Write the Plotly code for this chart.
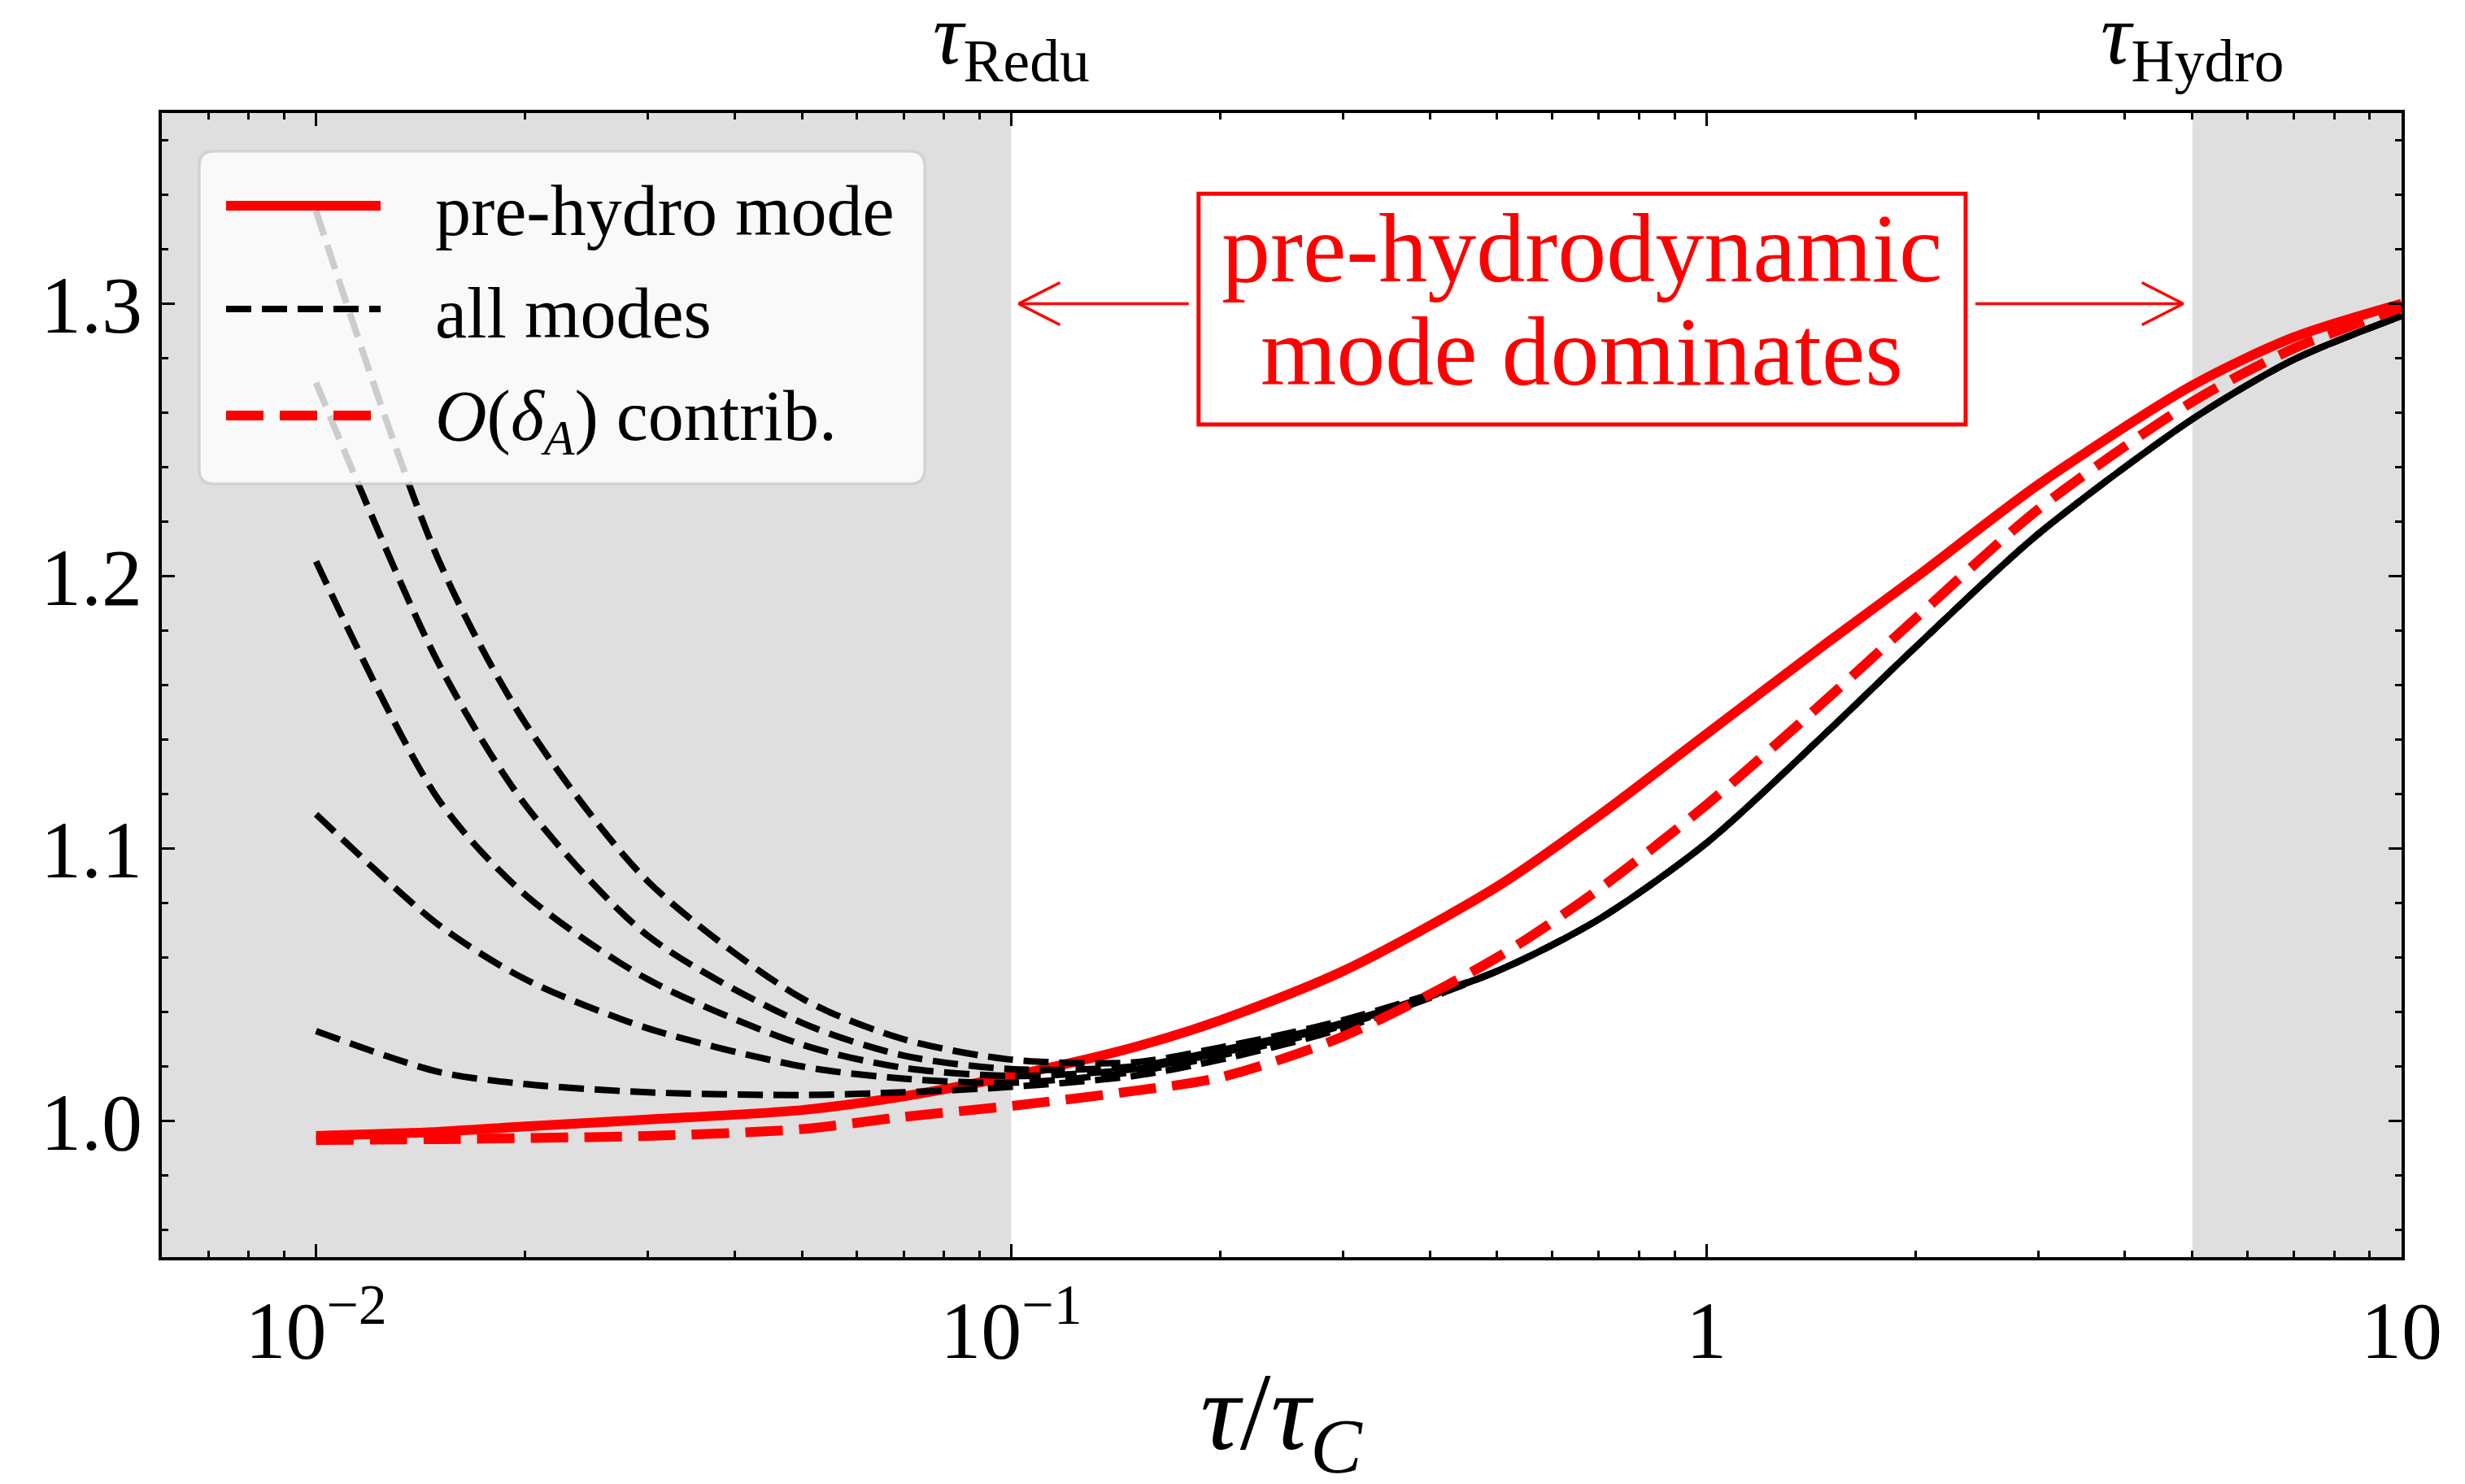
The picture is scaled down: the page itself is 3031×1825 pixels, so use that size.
import numpy as np
import plotly.graph_objects as go

# ---------------- data ----------------
tau = [0.01, 0.015, 0.02, 0.03, 0.05, 0.07, 0.1, 0.15, 0.2, 0.3,
       0.5, 0.7, 1, 1.5, 2, 3, 5, 7, 10]

pre_hydro = [0.9945, 0.996, 0.998, 1.0005, 1.004, 1.009, 1.0165, 1.027, 1.037, 1.055,
             1.086, 1.112, 1.142, 1.176, 1.1995, 1.2335, 1.270, 1.2877, 1.300]
delta_A = [0.993, 0.9933, 0.9937, 0.9945, 0.997, 1.0015, 1.0055, 1.011, 1.016, 1.031,
           1.060, 1.085, 1.116, 1.1555, 1.1845, 1.2245, 1.264, 1.2836, 1.2986]

# "all modes" curves: early part (tau <= 0.3) differs per curve, late part shared
all_A = [1.033, 1.018, 1.0135, 1.0105, 1.0095, 1.0105, 1.0125, 1.0165, 1.0225, 1.034]
all_B = [1.1126, 1.072, 1.052, 1.034, 1.020, 1.0155, 1.014, 1.018, 1.024, 1.035]
all_C = [1.2054, 1.118, 1.083, 1.052, 1.028, 1.0195, 1.0165, 1.019, 1.025, 1.0355]
all_D = [1.271, 1.168, 1.116, 1.068, 1.036, 1.024, 1.019, 1.020, 1.026, 1.036]
all_E = [1.334, 1.206, 1.146, 1.088, 1.045, 1.030, 1.0225, 1.0215, 1.027, 1.037]
all_tail = [1.055, 1.074, 1.102, 1.1434, 1.174, 1.2154, 1.2576, 1.2795, 1.2955]

x_tickvals = [0.01, 0.1, 1, 10]
x_ticktext = ["10<sup>\u22122</sup>", "10<sup>\u22121</sup>", "1", "10"]
y_tickvals = [1.0, 1.1, 1.2, 1.3]
y_ticktext = ["1.0", "1.1", "1.2", "1.3"]

legend_labels = ["pre-hydro mode", "all modes", "<i>O</i>(<i>\u03b4</i><sub><i>A</i></sub>) contrib."]
box_lines = ["pre-hydrodynamic", "mode dominates"]

X_MIN, X_MAX = 0.006, 10
Y_MIN, Y_MAX = 0.95, 1.37
tau_redu, tau_hydro = 0.1, 5
arrow_y = 1.3
box_x0, box_x1, box_y0, box_y1 = 0.186, 2.36, 1.2557, 1.3404
box_text_y = [1.3202, 1.2823]

# ---------------- geometry ----------------
W, H = 3031, 1825
ML, MR, MT, MB = 199, 78, 139, 279
PW, PH = W - ML - MR, H - MT - MB
FONT = "Liberation Serif"
RED = "#ff0000"


def x_off(x, dpx):
    return 10 ** (np.log10(x) + dpx * (np.log10(X_MAX) - np.log10(X_MIN)) / PW)


def y_off(y, dpx):
    return y + dpx * (Y_MAX - Y_MIN) / PH


def pxx(px):
    return (px - ML) / PW


def pxy(py):
    return (H - MB - py) / PH


fig = go.Figure()

spl = dict(shape="spline", smoothing=0.8)
fig.add_trace(go.Scatter(x=tau, y=pre_hydro, mode="lines",
                         line=dict(color=RED, width=12, **spl)))
for head in [all_A, all_B, all_C, all_D, all_E]:
    fig.add_trace(go.Scatter(x=tau, y=head + all_tail, mode="lines",
                             line=dict(color="black", width=8, dash="31px,13px", **spl)))
fig.add_trace(go.Scatter(x=tau, y=delta_A, mode="lines",
                         line=dict(color=RED, width=12, dash="46px,20px", **spl)))

shapes = []
# shaded regions
for a, b in [(X_MIN, tau_redu), (tau_hydro, X_MAX)]:
    shapes.append(dict(type="rect", xref="x", yref="paper", x0=a, x1=b, y0=0, y1=1,
                       fillcolor="#dfdfdf", line=dict(width=0), layer="below"))

# legend frame (rounded, semi-transparent)
lx0, lx1, ly0, ly1 = pxx(245), pxx(1137), pxy(595), pxy(186)
rx, ry = 18 / PW, 18 / PH
path = (f"M{lx0+rx},{ly0} L{lx1-rx},{ly0} Q{lx1},{ly0} {lx1},{ly0+ry} "
        f"L{lx1},{ly1-ry} Q{lx1},{ly1} {lx1-rx},{ly1} L{lx0+rx},{ly1} "
        f"Q{lx0},{ly1} {lx0},{ly1-ry} L{lx0},{ly0+ry} Q{lx0},{ly0} {lx0+rx},{ly0} Z")
shapes.append(dict(type="path", xref="paper", yref="paper", path=path,
                   fillcolor="rgba(255,255,255,0.8)",
                   line=dict(color="rgba(204,204,204,0.8)", width=3.5), layer="above"))
rows = [253, 380, 511]
styles = [dict(color=RED, width=12), dict(color="black", width=8, dash="31px,13px"),
          dict(color=RED, width=12, dash="46px,20px")]
for r, st in zip(rows, styles):
    shapes.append(dict(type="line", xref="paper", yref="paper", x0=pxx(278), x1=pxx(468),
                       y0=pxy(r), y1=pxy(r), line=st, layer="above"))

# annotation box
shapes.append(dict(type="rect", xref="x", yref="y", x0=box_x0, x1=box_x1, y0=box_y0, y1=box_y1,
                   fillcolor="white", line=dict(color=RED, width=5), layer="above"))
# arrows
aw = dict(color=RED, width=3.5)
lt = x_off(tau_redu, 9)
rt = x_off(tau_hydro, -11)
shapes.append(dict(type="line", xref="x", yref="y", x0=x_off(box_x0, -12), x1=lt,
                   y0=arrow_y, y1=arrow_y, line=aw, layer="above"))
shapes.append(dict(type="line", xref="x", yref="y", x0=x_off(box_x1, 12), x1=rt,
                   y0=arrow_y, y1=arrow_y, line=aw, layer="above"))
for s in (1, -1):
    shapes.append(dict(type="line", xref="x", yref="y", x0=lt, x1=x_off(lt, 51),
                       y0=arrow_y, y1=y_off(arrow_y, s * 26), line=aw, layer="above"))
    shapes.append(dict(type="line", xref="x", yref="y", x0=rt, x1=x_off(rt, -51),
                       y0=arrow_y, y1=y_off(arrow_y, s * 26), line=aw, layer="above"))

ann = []
for r, lab in zip(rows, legend_labels):
    ann.append(dict(xref="paper", yref="paper", x=pxx(533), y=pxy(r + 6), text=lab,
                    showarrow=False, xanchor="left", yanchor="middle",
                    font=dict(family=FONT, size=88, color="black")))
box_cx = np.log10(np.sqrt(box_x0 * box_x1))
for t, yy in zip(box_lines, box_text_y):
    ann.append(dict(xref="x", yref="y", x=box_cx, y=yy, text=t, showarrow=False,
                    xanchor="center", yanchor="middle",
                    font=dict(family=FONT, size=120, color=RED)))
for xv, lab in [(tau_redu, "<i>\u03c4</i><sub>Redu</sub>"), (tau_hydro, "<i>\u03c4</i><sub>Hydro</sub>")]:
    ann.append(dict(xref="x", yref="paper", x=np.log10(xv), y=pxy(50), text=lab,
                    showarrow=False, xanchor="center", yanchor="middle",
                    font=dict(family=FONT, size=105, color="black")))
ann.append(dict(xref="paper", yref="paper", x=0.5, y=pxy(1746),
                text="<i>\u03c4</i>/<i>\u03c4</i><sub><i>C</i></sub>", showarrow=False,
                xanchor="center", yanchor="middle",
                font=dict(family=FONT, size=136, color="black")))

minor_x = [m * 10.0 ** e for e in range(-3, 1) for m in range(2, 10)
           if X_MIN <= m * 10.0 ** e <= X_MAX]
minor_y = [round(v, 2) for v in np.arange(0.96, 1.37, 0.02)]

axis_common = dict(showline=True, linewidth=4, linecolor="black", mirror="allticks",
                   ticks="inside", ticklen=16, tickwidth=3, tickcolor="black",
                   showgrid=False, zeroline=False,
                   tickfont=dict(family=FONT, size=100, color="black"))

fig.update_layout(
    width=W, height=H, autosize=False,
    margin=dict(l=ML, r=MR, t=MT, b=MB, pad=0),
    paper_bgcolor="white", plot_bgcolor="white",
    showlegend=False,
    shapes=shapes, annotations=ann,
    xaxis=dict(type="log", range=[np.log10(X_MIN), np.log10(X_MAX)],
               tickmode="array", tickvals=x_tickvals, ticktext=x_ticktext,
               minor=dict(tickmode="array", tickvals=minor_x, ticks="inside", ticklen=8,
                          tickwidth=2.5, tickcolor="black", showgrid=False),
               **axis_common),
    yaxis=dict(range=[Y_MIN, Y_MAX], tickmode="array", tickvals=y_tickvals, ticktext=y_ticktext,
               minor=dict(tickmode="array", tickvals=minor_y, ticks="inside", ticklen=8,
                          tickwidth=2.5, tickcolor="black", showgrid=False),
               **axis_common),
)

fig.write_html("out.html", config={"displayModeBar": False},
               post_script="document.body.style.margin='0';document.body.style.overflow='hidden';")
